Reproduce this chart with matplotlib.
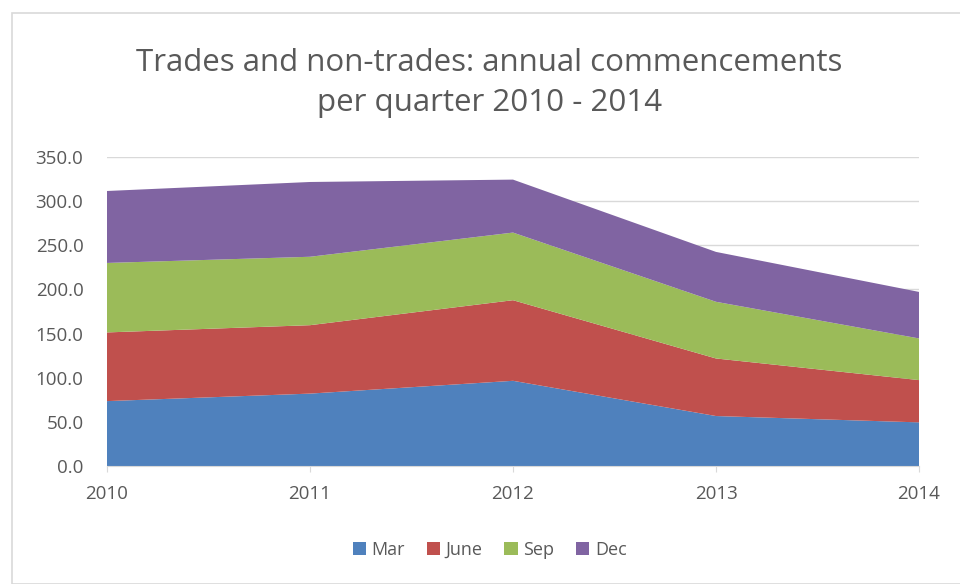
import matplotlib
matplotlib.use("Agg")
import matplotlib.pyplot as plt
from matplotlib.patches import Rectangle
import numpy as np

years = [2010, 2011, 2012, 2013, 2014]
series_names = ["Mar", "June", "Sep", "Dec"]
mar = [73.5, 82.0, 96.5, 56.6, 49.4]
june = [77.8, 77.5, 91.3, 65.2, 47.9]
sep = [78.7, 77.5, 76.6, 64.2, 47.2]
dec = [81.5, 84.7, 60.0, 56.5, 52.7]
colors = ["#4F81BD", "#C0504D", "#9BBB59", "#8064A2"]
yticks = [0, 50, 100, 150, 200, 250, 300, 350]

plt.rcParams['font.family'] = ['Open Sans', 'DejaVu Sans']

fig = plt.figure(figsize=(9.6, 5.84), dpi=100)
fig.patches.append(Rectangle((12/960, 0.0), 1.0, 1 - 13/584, transform=fig.transFigure,
                             fill=False, edgecolor="#D9D9D9", linewidth=1.2))
ax = fig.add_axes([107/960, 1 - 466/584, (919 - 107)/960, (466 - 157)/584])

ax.stackplot(years, mar, june, sep, dec, colors=colors, labels=series_names, linewidth=0)

ax.set_xlim(years[0], years[-1])
ax.set_ylim(0, 350)
ax.set_yticks(yticks)
ax.set_yticklabels([f"{v:.1f}" for v in yticks])
ax.set_xticks(years)
ax.set_xticklabels([str(y) for y in years])
ax.grid(axis='y', color="#D9D9D9", linewidth=1)
ax.set_axisbelow(True)
for s in ["top", "right", "left"]:
    ax.spines[s].set_visible(False)
ax.spines["bottom"].set_color("#D9D9D9")
ax.tick_params(axis='y', length=0, pad=17, labelsize=13.5, labelcolor="#595959")
ax.tick_params(axis='x', length=4, color="#D9D9D9", pad=10, labelsize=13.5, labelcolor="#595959")

fig.text(0.51, 1 - 83/584, "Trades and non-trades: annual commencements\nper quarter 2010 - 2014",
         ha='center', va='center', fontsize=22.5, color="#595959", linespacing=1.42)

handles, labels = ax.get_legend_handles_labels()
fig.legend(handles, labels, loc='center', bbox_to_anchor=(0.51, 1 - 550/584), ncol=4,
           frameon=False, fontsize=13, handlelength=0.75, handleheight=0.75,
           handletextpad=0.3, columnspacing=1.2, labelcolor="#595959")

fig.savefig("out.png", dpi=100)
